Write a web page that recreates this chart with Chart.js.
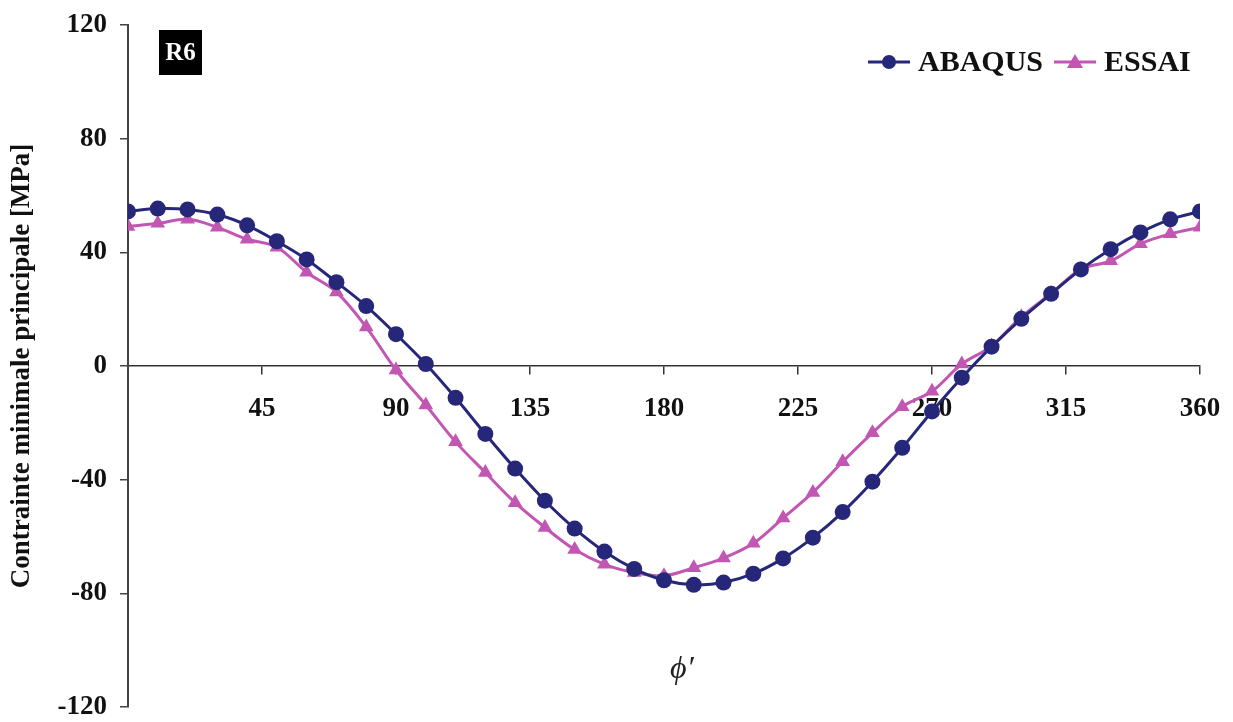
<!DOCTYPE html>
<html>
<head>
<meta charset="utf-8">
<script src="https://cdn.jsdelivr.net/npm/chart.js@4.4.0/dist/chart.umd.min.js"></script>
<style>
  html, body { margin: 0; padding: 0; background: #fff; }
  #wrap { width: 1233px; height: 722px; }
</style>
</head>
<body>
<div id="wrap"><canvas id="myChart" width="1233" height="722"></canvas></div>
<script>
// angles phi' (degrees)
const angles = [0,10,20,30,40,50,60,70,80,90,100,110,120,130,140,150,160,170,180,
                190,200,210,220,230,240,250,260,270,280,290,300,310,320,330,340,350,360];

const abaqus = [54.4,55.4,55.1,53.3,49.5,43.9,37.5,29.5,21.1,11.2,0.7,-11.2,-23.9,-36.1,-47.4,-57.2,-65.3,-71.4,-75.4,
                -77.0,-76.2,-73.1,-67.7,-60.4,-51.4,-40.7,-28.8,-16.0,-4.1,6.8,16.6,25.4,34.0,41.1,47.0,51.6,54.4];

const essai = [49.1,50.2,51.6,48.8,44.6,41.8,33.0,26.0,13.7,-1.4,-13.7,-26.7,-37.5,-48.1,-56.8,-64.6,-69.8,-72.7,-73.8,
               -71.0,-67.6,-62.4,-53.5,-44.5,-33.7,-23.5,-14.3,-8.9,0.7,7.0,17.3,25.5,34.0,37.0,43.0,46.5,48.8];

const xTicks = [45,90,135,180,225,270,315,360];
const yTicks = [-120,-80,-40,0,40,80,120];

const navy = '#27277a';
const pink = '#c256b3';
const serif = "'Liberation Serif', 'DejaVu Serif', serif";

function pts(vals) {
  return angles.map((a, i) => ({x: a, y: vals[i]}));
}

// ====== extras: R6 tag, legend, phi' label ======
const extras = {
  id: 'extras',
  afterDraw(chart) {
    const c = chart.ctx;
    const xs = chart.scales.x, ys = chart.scales.y;
    c.save();

    // R6 box
    c.fillStyle = '#000';
    c.fillRect(159, 30, 43, 45);
    c.fillStyle = '#fff';
    c.font = "bold 25px " + serif;
    c.textAlign = 'center';
    c.textBaseline = 'middle';
    c.fillText('R6', 180.5, 54);

    // legend
    const items = [
      {label: 'ABAQUS', color: navy, shape: 'circle', x0: 868},
      {label: 'ESSAI', color: pink, shape: 'triangle', x0: 1054}
    ];
    const ly = 62;
    c.font = "bold 30px " + serif;
    c.textAlign = 'left';
    items.forEach(it => {
      c.strokeStyle = it.color;
      c.lineWidth = 3;
      c.beginPath();
      c.moveTo(it.x0, ly);
      c.lineTo(it.x0 + 42, ly);
      c.stroke();
      c.fillStyle = it.color;
      c.beginPath();
      const cx = it.x0 + 21;
      if (it.shape === 'circle') {
        c.arc(cx, ly, 7, 0, Math.PI * 2);
      } else {
        c.moveTo(cx, ly - 8);
        c.lineTo(cx + 8, ly + 6);
        c.lineTo(cx - 8, ly + 6);
        c.closePath();
      }
      c.fill();
      c.fillStyle = '#111';
      c.fillText(it.label, it.x0 + 50, ly + 1);
    });

    // x axis title
    c.fillStyle = '#222';
    c.font = "italic 32px " + serif;
    c.textAlign = 'center';
    c.fillText("\u03D5\u2032", xs.getPixelForValue(186), ys.getPixelForValue(-107));
    c.restore();
  }
};

const ctx = document.getElementById('myChart').getContext('2d');
const chart = new Chart(ctx, {
  type: 'line',
  data: {
    datasets: [
      {
        label: 'ABAQUS',
        data: pts(abaqus),
        borderColor: navy,
        backgroundColor: navy,
        borderWidth: 3,
        pointStyle: 'circle',
        pointRadius: 8,
        pointBorderWidth: 0,
        tension: 0.35
      },
      {
        label: 'ESSAI',
        data: pts(essai),
        borderColor: pink,
        backgroundColor: pink,
        borderWidth: 3,
        pointStyle: 'triangle',
        pointRadius: 8.5,
        pointBorderWidth: 0,
        tension: 0.35
      }
    ]
  },
  options: {
    responsive: false,
    animation: false,
    layout: { padding: { top: 25, right: 33, bottom: 15, left: 0 } },
    plugins: {
      legend: { display: false },
      tooltip: { enabled: false }
    },
    scales: {
      x: {
        type: 'linear',
        position: { y: 0 },
        min: 0,
        max: 360,
        afterBuildTicks: s => { s.ticks = [0].concat(xTicks).map(v => ({value: v})); },
        afterFit: s => { s.paddingLeft = 0; s.paddingRight = 0; },
        ticks: {
          callback: v => (v === 0 ? '' : v),
          color: '#111',
          font: { family: serif, size: 27, weight: 'bold' },
          padding: 19,
          maxRotation: 0
        },
        grid: {
          drawOnChartArea: false,
          drawTicks: true,
          tickLength: 8,
          color: '#333',
          lineWidth: 1.5
        },
        border: { color: '#333', width: 1.5 }
      },
      y: {
        min: -120,
        max: 120,
        afterBuildTicks: s => { s.ticks = yTicks.map(v => ({value: v})); },
        afterFit: s => { s.width = 128; s.paddingTop = 0; s.paddingBottom = 0; },
        ticks: {
          color: '#111',
          font: { family: serif, size: 27, weight: 'bold' },
          padding: 13
        },
        grid: {
          drawOnChartArea: false,
          drawTicks: true,
          tickLength: 8,
          color: '#444',
          lineWidth: 1.5
        },
        border: { color: '#444', width: 2 },
        title: {
          display: true,
          text: 'Contrainte minimale principale [MPa]',
          color: '#111',
          font: { family: serif, size: 27, weight: 'bold' },
          padding: { top: 6, bottom: 0 }
        }
      }
    }
  },
  plugins: [extras]
});
</script>
</body>
</html>
